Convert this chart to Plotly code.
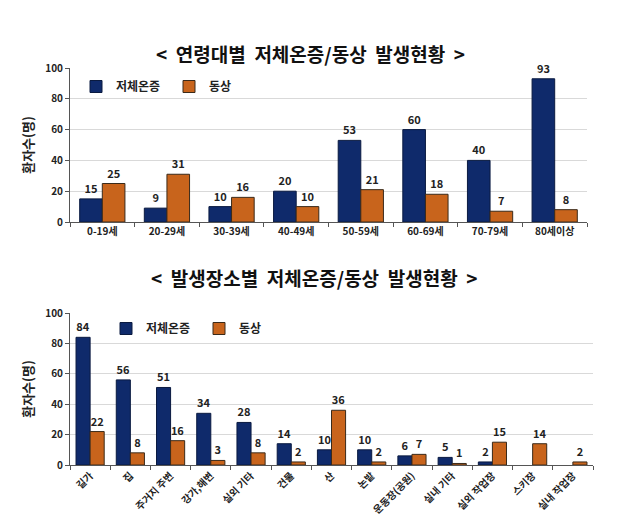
import plotly.graph_objects as go

age_cats = ["0-19세", "20-29세", "30-39세", "40-49세", "50-59세", "60-69세", "70-79세", "80세이상"]
age_hypo = [15, 9, 10, 20, 53, 60, 40, 93]
age_frost = [25, 31, 16, 10, 21, 18, 7, 8]

place_cats = ["길가", "집", "주거지 주변", "강가,해변", "실외 기타", "건물", "산", "논밭",
              "운동장(공원)", "실내 기타", "실외 작업장", "스키장", "실내 작업장"]
place_hypo = [84, 56, 51, 34, 28, 14, 10, 10, 6, 5, 2, None, None]
place_frost = [22, 8, 16, 3, 8, 2, 36, 2, 7, 1, 15, 14, 2]

y_ticks = [0, 20, 40, 60, 80, 100]

NAVY = "#0f2a6b"
ORANGE = "#c8641c"
FONT = "Noto Sans CJK KR"

fig = go.Figure()

def bar(x, y, name, color, xa, ya, legend, show):
    return go.Bar(
        x=x, y=y, name=name, xaxis=xa, yaxis=ya, legend=legend, showlegend=show,
        marker=dict(color=color, line=dict(color="#3a2a1a" if color == ORANGE else "#0a1a40", width=1)),
        text=[("" if v is None else str(v)) for v in y], textposition="outside",
        textfont=dict(family=FONT, size=11, color="#222", weight="bold"), cliponaxis=False,
    )

fig.add_trace(bar(age_cats, age_hypo, "저체온증", NAVY, "x", "y", "legend", True))
fig.add_trace(bar(age_cats, age_frost, "동상", ORANGE, "x", "y", "legend", True))
fig.add_trace(bar(place_cats, place_hypo, "저체온증", NAVY, "x2", "y2", "legend2", True))
fig.add_trace(bar(place_cats, place_frost, "동상", ORANGE, "x2", "y2", "legend2", True))

# page has an 8px body margin, so figure pixels = page pixels - 8
OFF = 8
W, H = 639 - OFF, 520 - OFF
def px(x): return (x - OFF) / W
def py(y): return 1 - (y - OFF) / H

axis_common = dict(
    showline=True, linecolor="#555", linewidth=1, ticks="outside", ticklen=4, tickcolor="#555",
    tickfont=dict(family=FONT, size=10, color="#222", weight="bold"), automargin=False,
)
ytitle = dict(text="환자수(명)", font=dict(family=FONT, size=13, color="#222", weight="bold"), standoff=8)

legend_common = dict(
    xanchor="left", yanchor="top", orientation="h",
    font=dict(family=FONT, size=12, color="#222", weight="bold"),
    bgcolor="rgba(0,0,0,0)", itemwidth=30, tracegroupgap=0,
    entrywidth=48, entrywidthmode="pixels",
)

fig.update_layout(
    width=W, height=H, margin=dict(l=0, r=0, t=0, b=0, autoexpand=False),
    paper_bgcolor="white", plot_bgcolor="white",
    barmode="group", bargap=0.3, bargroupgap=0.0,
    font=dict(family=FONT),
    xaxis=dict(domain=[px(70), px(587)], anchor="y", tickson="boundaries", **axis_common),
    yaxis=dict(domain=[py(222), py(68)], anchor="x", range=[0, 100], tickvals=y_ticks,
               showgrid=True, gridcolor="#d9d9d9", title=ytitle, **axis_common),
    xaxis2=dict(domain=[px(70), px(593)], anchor="y2", tickson="boundaries", tickangle=-45, **axis_common),
    yaxis2=dict(domain=[py(465), py(313)], anchor="x2", range=[0, 100], tickvals=y_ticks,
                showgrid=True, gridcolor="#d9d9d9", title=ytitle, **axis_common),
    legend=dict(x=px(76), y=py(72), **legend_common),
    legend2=dict(x=px(106), y=py(314), **legend_common),
    annotations=[
        dict(text="<  연령대별  저체온증/동상  발생현황  >", x=px(310), y=py(38), xref="paper", yref="paper",
             showarrow=False, font=dict(family=FONT, size=19, color="#111", weight="bold")),
        dict(text="<  발생장소별  저체온증/동상  발생현황  >", x=px(314), y=py(277), xref="paper", yref="paper",
             showarrow=False, font=dict(family=FONT, size=19, color="#111", weight="bold")),
    ],
)

fig.write_html("out.html")
